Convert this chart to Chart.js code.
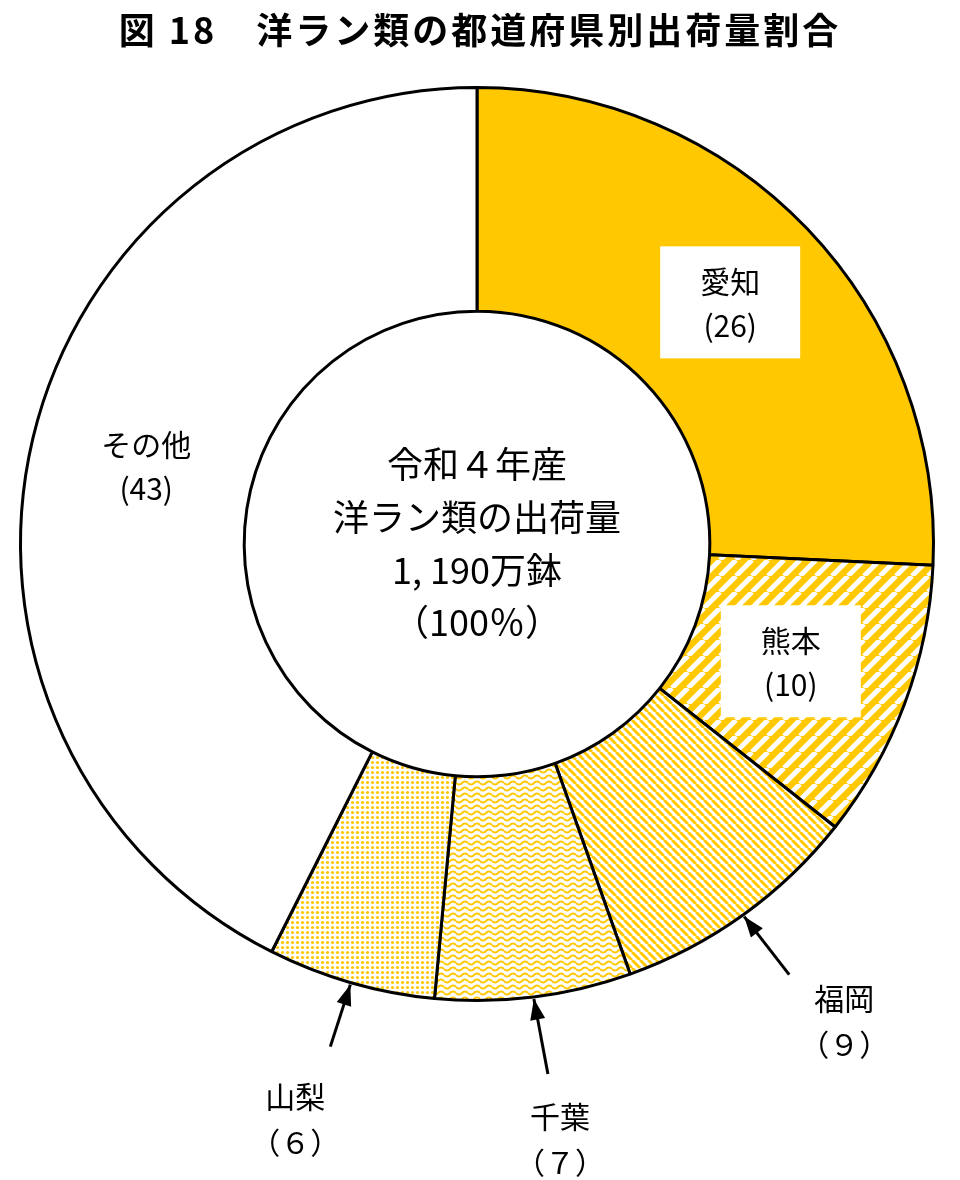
<!DOCTYPE html>
<html><head><meta charset="utf-8">
<script src="https://cdn.jsdelivr.net/npm/chart.js@4/dist/chart.umd.min.js"></script>
<style>
body{margin:0;background:#fff;}
#wrap{position:relative;width:960px;height:1180px;}
#title{position:absolute;left:0;top:2px;width:960px;text-align:center;font:bold 36px "Noto Sans CJK JP";letter-spacing:3px;color:#000;}
</style></head>
<body>
<div id="wrap">
<div id="title">図 18　洋ラン類の都道府県別出荷量割合</div>
<canvas id="c" width="960" height="1180"></canvas>
</div>
<script>
// slice order clockwise from 12 o'clock
var prefs = ["愛知", "熊本", "福岡", "千葉", "山梨", "その他"];
var shares = [26, 10, 9, 7, 6, 43];
var shareLabels = ["(26)", "(10)", "（９）", "（７）", "（６）", "(43)"];
var centerText = ["令和４年産", "洋ラン類の出荷量", "1, 190万鉢", "（100％）"];

var YEL = "#ffc800";

function makePattern(size, draw) {
  var c = document.createElement('canvas');
  c.width = size; c.height = size;
  var x = c.getContext('2d');
  draw(x, size);
  return x.createPattern(c, 'repeat');
}
var ctx0 = document.getElementById('c').getContext('2d');
var stripes = makePattern(16, function (x, s) {
  x.fillStyle = YEL; x.fillRect(0, 0, s, s);
  x.strokeStyle = "#fff"; x.lineWidth = 5;
  for (var k = -1; k <= 1; k++) { x.beginPath(); x.moveTo(k * s, s); x.lineTo(k * s + s, 0); x.stroke(); }
});
var hatch = makePattern(8, function (x, s) {
  x.fillStyle = "#fff"; x.fillRect(0, 0, s, s);
  x.strokeStyle = YEL; x.lineWidth = 3;
  for (var k = -1; k <= 1; k++) { x.beginPath(); x.moveTo(k * s, 0); x.lineTo(k * s + s, s); x.stroke(); }
});
var waves = makePattern(12, function (x, s) {
  x.fillStyle = "#fff"; x.fillRect(0, 0, s, s);
  x.strokeStyle = YEL; x.lineWidth = 2;
  for (var r = 0; r < 2; r++) {
    x.beginPath();
    for (var i = 0; i <= s; i++) { var yy = r * 6 + 3 + 1.6 * Math.sin(i / s * Math.PI * 2); if (i == 0) x.moveTo(i, yy); else x.lineTo(i, yy); }
    x.stroke();
  }
});
var dots = makePattern(5, function (x, s) {
  x.fillStyle = "#fff"; x.fillRect(0, 0, s, s);
  x.fillStyle = YEL; x.beginPath(); x.arc(2.5, 2.5, 1.6, 0, Math.PI * 2); x.fill();
});
var fills = [YEL, stripes, hatch, waves, dots, "#fff"];

// inside labels: radius from centre; arrows: [tail dx, tail dy, label dx, label dy]
var inside = { 0: { r: 350, box: true }, 1: { r: 335, box: true }, 5: { r: 340, box: false } };
var arrows = { 2: [45, 58, 100, 82], 3: [14, 75, 26, 118], 4: [-20, 62, -55, 112] };

var labelPlugin = {
  id: 'labels',
  afterDraw: function (chart) {
    var c = chart.ctx;
    var meta = chart.getDatasetMeta(0);
    var cx = meta.data[0].x, cy = meta.data[0].y;
    c.save();
    c.textAlign = 'center'; c.textBaseline = 'middle'; c.fillStyle = '#000';
    c.font = '30px "Noto Sans CJK JP"';
    meta.data.forEach(function (arc, i) {
      var p = arc.getProps(['startAngle', 'endAngle', 'outerRadius'], true);
      var mid = (p.startAngle + p.endAngle) / 2;
      if (inside[i]) {
        var lx = cx + inside[i].r * Math.cos(mid), ly = cy + inside[i].r * Math.sin(mid);
        if (inside[i].box) { c.fillStyle = '#fff'; c.fillRect(lx - 70, ly - 56, 140, 112); c.fillStyle = '#000'; }
        c.fillText(prefs[i], lx, ly - 21);
        c.fillText(shareLabels[i], lx, ly + 23);
      } else {
        var a = arrows[i];
        var tx = cx + (p.outerRadius + 2) * Math.cos(mid), ty = cy + (p.outerRadius + 2) * Math.sin(mid);
        var ex = tx + a[0], ey = ty + a[1];
        c.strokeStyle = '#000'; c.lineWidth = 3;
        c.beginPath(); c.moveTo(ex, ey); c.lineTo(tx, ty); c.stroke();
        var ang = Math.atan2(ty - ey, tx - ex);
        c.beginPath(); c.moveTo(tx, ty);
        c.lineTo(tx - 22 * Math.cos(ang - 0.35), ty - 22 * Math.sin(ang - 0.35));
        c.lineTo(tx - 22 * Math.cos(ang + 0.35), ty - 22 * Math.sin(ang + 0.35));
        c.closePath(); c.fill();
        c.fillText(prefs[i], tx + a[2], ty + a[3]);
        c.fillText(shareLabels[i], tx + a[2], ty + a[3] + 46);
      }
    });
    c.font = '36px "Noto Sans CJK JP"';
    [-80, -27, 26, 78].forEach(function (dy, k) { c.fillText(centerText[k], cx, cy + dy); });
    c.restore();
  }
};

new Chart(ctx0, {
  type: 'doughnut',
  data: { labels: prefs, datasets: [{ data: shares, backgroundColor: fills, borderColor: '#000', borderWidth: 3 }] },
  options: {
    responsive: false, animation: false, cutout: '51%',
    layout: { padding: { top: 80, left: 19, right: 25, bottom: 172 } },
    plugins: { legend: { display: false }, tooltip: { enabled: false } }
  },
  plugins: [labelPlugin]
});
</script>
</body></html>
